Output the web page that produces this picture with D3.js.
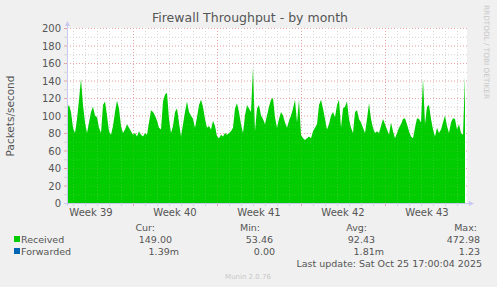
<!DOCTYPE html>
<html>
<head>
<meta charset="utf-8">
<script src="https://cdn.jsdelivr.net/npm/d3@7"></script>
<style>
  body { margin: 0; background: #f0f0f0; }
  svg text { font-family: "DejaVu Sans", sans-serif; fill: #555; }
</style>
</head>
<body>
<div id="chart"></div>
<script>
// Received packets/second, one sample every 4 hours
var received = [
  108, 112, 104, 86, 80, 96, 118, 142, 112, 92,
  80, 92, 104, 110, 100, 98, 86, 80, 112, 116,
  100, 82, 78, 88, 104, 117, 108, 88, 80, 84,
  90, 86, 82, 78, 80, 76, 82, 78, 76, 80,
  78, 92, 106, 104, 100, 94, 86, 84, 116, 124,
  126, 96, 80, 88, 104, 108, 92, 76, 90, 104,
  116, 104, 100, 96, 86, 98, 112, 118, 110, 96,
  86, 88, 84, 94, 88, 76, 74, 78, 76, 80,
  78, 80, 82, 86, 108, 114, 104, 90, 80, 100,
  112, 108, 104, 155, 82, 108, 112, 100, 96, 90,
  100, 110, 118, 120, 98, 86, 96, 104, 100, 92,
  86, 94, 100, 108, 118, 92, 118, 78, 74, 72,
  74, 76, 74, 82, 86, 90, 112, 118, 108, 96,
  84, 90, 100, 104, 98, 112, 118, 86, 108, 110,
  116, 96, 86, 80, 104, 106, 96, 92, 86, 80,
  96, 114, 96, 86, 80, 82, 80, 88, 96, 90,
  84, 78, 92, 82, 74, 80, 86, 90, 96, 97,
  90, 82, 76, 74, 86, 97, 96, 92, 142, 90,
  110, 112, 96, 84, 76, 86, 80, 84, 92, 100,
  88, 80, 92, 97, 96, 84, 90, 80, 78, 145
];

var weekLabels = ["Week 39", "Week 40", "Week 41", "Week 42", "Week 43"];
var yTicks = [0, 20, 40, 60, 80, 100, 120, 140, 160, 180, 200];

var legendNames = ["Received", "Forwarded"];
var legendColors = ["#00cc00", "#0066b3"];
var curVals = ["149.00", "1.39m"];
var minVals = ["53.46", "0.00"];
var avgVals = ["92.43", "1.81m"];
var maxVals = ["472.98", "1.23"];

var svgWidth = 497, svgHeight = 287;
var plot = { left: 67, right: 467, top: 28, bottom: 203 };

var svg = d3.select("#chart").append("svg")
  .attr("width", svgWidth)
  .attr("height", svgHeight);

svg.append("rect").attr("width", svgWidth).attr("height", svgHeight).attr("fill", "#f0f0f0");

var start = new Date(Date.UTC(2025, 8, 23, 12));
var end = new Date(Date.UTC(2025, 9, 26, 20));
var step = 4 * 3600 * 1000;

var x = d3.scaleUtc().domain([start, end]).range([plot.left, plot.right]);
var y = d3.scaleLinear().domain([0, 200]).range([plot.bottom, plot.top]);

var data = received.map(function(v, i) {
  return { t: new Date(start.getTime() + i * step), v: v };
});

// plot background
svg.append("rect")
  .attr("x", plot.left).attr("y", plot.top)
  .attr("width", plot.right - plot.left).attr("height", plot.bottom - plot.top)
  .attr("fill", "#fff");

var days = d3.utcDay.range(start, end);

// grid, drawn twice: under the area and faintly over it
function drawGrid(layer, withTicks) {
  d3.range(0, 201, 10).forEach(function(v) {
    var major = v % 20 === 0;
    layer.append("line")
      .attr("x1", plot.left).attr("x2", plot.right)
      .attr("y1", y(v) + 0.5).attr("y2", y(v) + 0.5)
      .attr("stroke", major ? "#e9a3a3" : "#d4d4d4")
      .attr("stroke-dasharray", "1,2");
    if (withTicks) {
      layer.append("line")
        .attr("x1", plot.left - 3).attr("x2", plot.left)
        .attr("y1", y(v) + 0.5).attr("y2", y(v) + 0.5)
        .attr("stroke", major ? "#e9a3a3" : "#d4d4d4");
    }
  });
  days.forEach(function(d) {
    var major = d.getUTCDay() === 1;
    var px = Math.round(x(d)) + 0.5;
    layer.append("line")
      .attr("x1", px).attr("x2", px)
      .attr("y1", plot.top).attr("y2", plot.bottom)
      .attr("stroke", major ? "#e9a3a3" : "#d4d4d4")
      .attr("stroke-dasharray", "1,2");
    if (withTicks) {
      layer.append("line")
        .attr("x1", px).attr("x2", px)
        .attr("y1", plot.bottom).attr("y2", plot.bottom + 3)
        .attr("stroke", major ? "#e9a3a3" : "#d4d4d4");
    }
  });
}

drawGrid(svg.append("g"), true);

// received area
var area = d3.area()
  .x(function(d) { return x(d.t); })
  .y0(y(0))
  .y1(function(d) { return y(d.v); });

svg.append("path")
  .datum(data)
  .attr("d", area)
  .attr("fill", "#00cc00");

drawGrid(svg.append("g").attr("opacity", 0.2), false);

// axes with arrows
svg.append("line")
  .attr("x1", plot.left + 0.5).attr("x2", plot.left + 0.5)
  .attr("y1", plot.bottom + 3).attr("y2", plot.top - 5)
  .attr("stroke", "#c8c8f0");
svg.append("path")
  .attr("d", "M" + (plot.left - 2) + "," + (plot.top - 2) + "L" + (plot.left + 0.5) + "," + (plot.top - 7) + "L" + (plot.left + 3) + "," + (plot.top - 2) + "Z")
  .attr("fill", "#c8c8f0");
svg.append("line")
  .attr("x1", plot.left - 3).attr("x2", plot.right + 5)
  .attr("y1", plot.bottom + 0.5).attr("y2", plot.bottom + 0.5)
  .attr("stroke", "#c8c8f0");
svg.append("path")
  .attr("d", "M" + (plot.right + 2) + "," + (plot.bottom - 2) + "L" + (plot.right + 7) + "," + (plot.bottom + 0.5) + "L" + (plot.right + 2) + "," + (plot.bottom + 3) + "Z")
  .attr("fill", "#c8c8f0");

// y tick labels
svg.selectAll(".ylab")
  .data(yTicks)
  .enter().append("text")
  .attr("x", plot.left - 6)
  .attr("y", function(d) { return y(d) + 4; })
  .attr("text-anchor", "end")
  .attr("font-size", "10px")
  .text(function(d) { return d; });

// week labels, centred in the middle of each week
var mondays = d3.utcMonday.range(new Date(Date.UTC(2025, 8, 22)), end);
svg.selectAll(".xlab")
  .data(weekLabels)
  .enter().append("text")
  .attr("x", function(d, i) { return x(d3.utcHour.offset(mondays[i], 84)); })
  .attr("y", 216)
  .attr("text-anchor", "middle")
  .attr("font-size", "10px")
  .text(function(d) { return d; });

// title and labels
svg.append("text")
  .attr("x", 250).attr("y", 22)
  .attr("text-anchor", "middle")
  .attr("font-size", "12.5px")
  .text("Firewall Throughput - by month");

svg.append("text")
  .attr("transform", "translate(14,116) rotate(-90)")
  .attr("text-anchor", "middle")
  .attr("font-size", "10.5px")
  .text("Packets/second");

svg.append("text")
  .attr("transform", "translate(484,5) rotate(90)")
  .attr("font-size", "7.3px")
  .style("fill", "#c8c8c8")
  .text("RRDTOOL / TOBI OETIKER");

// legend
var heads = [["Cur:", 155], ["Min:", 260], ["Avg:", 367], ["Max:", 477]];
heads.forEach(function(h) {
  svg.append("text")
    .attr("x", h[1]).attr("y", 231)
    .attr("text-anchor", "end")
    .attr("font-size", "9.5px")
    .text(h[0]);
});

var cols = [[curVals, [172, 179]], [minVals, [273, 275]], [avgVals, [375, 384]], [maxVals, [480, 480]]];
legendNames.forEach(function(name, i) {
  var ly = 243 + i * 12;
  svg.append("rect")
    .attr("x", 14).attr("y", ly - 7)
    .attr("width", 6).attr("height", 6)
    .attr("fill", legendColors[i]);
  svg.append("text")
    .attr("x", 21).attr("y", ly)
    .attr("font-size", "9.5px")
    .text(name);
  cols.forEach(function(c) {
    svg.append("text")
      .attr("x", c[1][i]).attr("y", ly)
      .attr("text-anchor", "end")
      .attr("font-size", "9.5px")
      .text(c[0][i]);
  });
});

svg.append("text")
  .attr("x", 482).attr("y", 267)
  .attr("text-anchor", "end")
  .attr("font-size", "9.5px")
  .text("Last update: Sat Oct 25 17:00:04 2025");

svg.append("text")
  .attr("x", 248).attr("y", 279)
  .attr("text-anchor", "middle")
  .attr("font-size", "7px")
  .style("fill", "#c8c8c8")
  .text("Munin 2.0.76");
</script>
</body>
</html>
